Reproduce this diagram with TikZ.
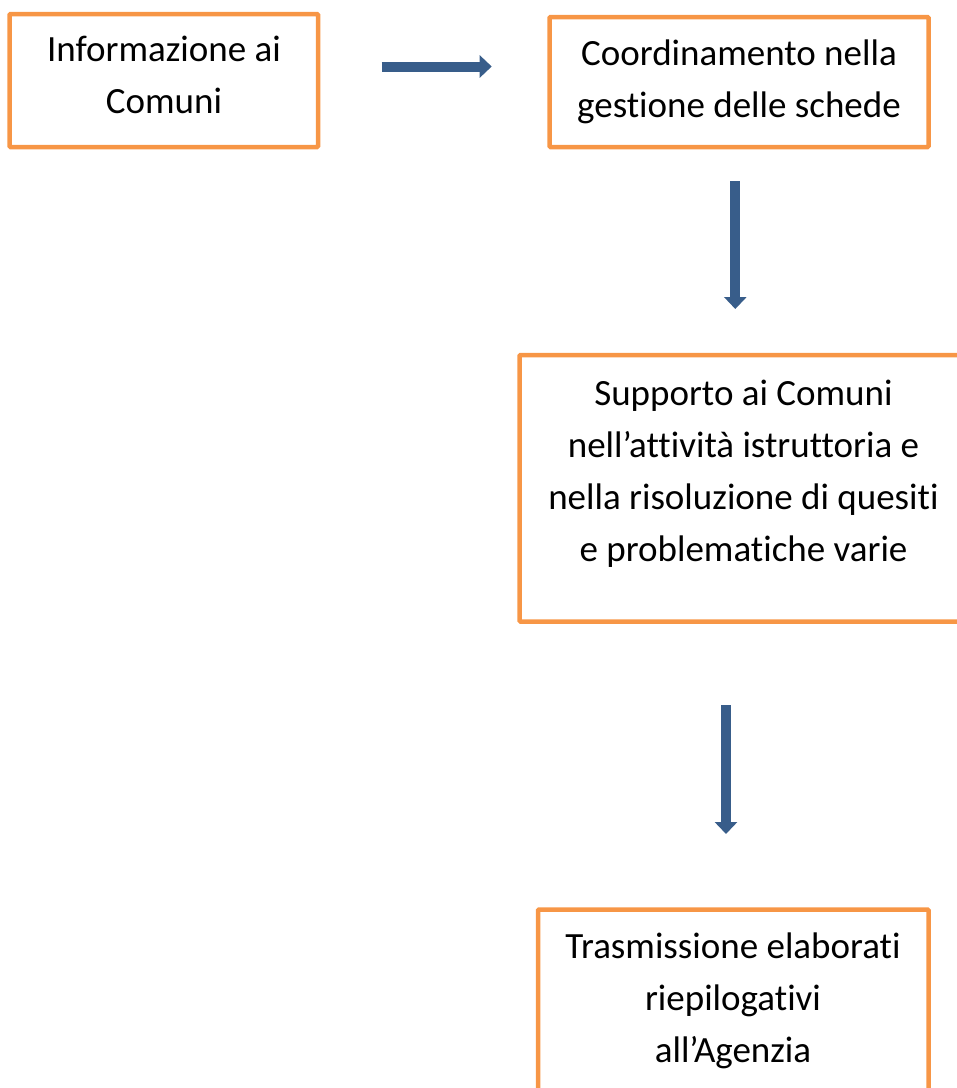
\documentclass[tikz,border=0pt]{standalone}
\usepackage{fontspec}
\setmainfont{Carlito}[Ligatures=NoCommon]
\usetikzlibrary{arrows.meta,positioning}

\definecolor{boxorange}{HTML}{F79646}
\definecolor{arrowblue}{HTML}{385D8A}

\begin{document}
\begin{tikzpicture}[x=1pt,y=-1pt,
    box/.style={draw=boxorange,line width=4.5pt,rounded corners=1pt,inner sep=0pt},
    boxtext/.style={align=center,inner sep=0pt,anchor=base,font=\fontsize{37}{52}\selectfont},
    flow/.style={arrowblue,line width=10pt,-{Triangle[width=22pt,length=12pt]}}]
    \useasboundingbox (0,0) rectangle (957,1088);
    % boxes
    \node[box,minimum width=308.5pt,minimum height=133pt] (info) at (163.75,80.5) {};
    \node[box,minimum width=379pt,minimum height=130pt] (coord) at (739,82) {};
    \node[box,minimum width=448.5pt,minimum height=266.5pt] (supp) at (743.75,488.25) {};
    \node[box,minimum width=390.5pt,minimum height=200.5pt] (trasm) at (733.25,1009.75) {};
    % texts (base = last line)
    \node[boxtext] (infotext) at (164,113.5) {Informazione ai\\Comuni};
    \node[boxtext] (coordtext) at (739,117.3) {Coordinamento nella\\gestione delle schede};
    \node[boxtext] (supptext) at (743.5,561.5) {Supporto ai Comuni\\nell’attività istruttoria e\\nella risoluzione di quesiti\\e problematiche varie};
    \node[boxtext] (trasmtext) at (733,1062.3) {Trasmissione elaborati\\riepilogativi\\all’Agenzia};
    % arrows
    \coordinate (a1) at (381.7,66.5);
    \coordinate (b1) at (491.7,66.5);
    \coordinate (a2) at (735.3,181);
    \coordinate (b2) at (735.3,309);
    \coordinate (a3) at (726,705);
    \coordinate (b3) at (726,834);
    \draw[flow] (a1) -- (b1);
    \draw[flow] (a2) -- (b2);
    \draw[flow] (a3) -- (b3);
\end{tikzpicture}
\end{document}
